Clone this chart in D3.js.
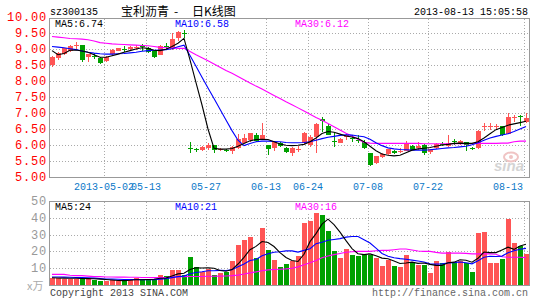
<!DOCTYPE html>
<html>
<head>
<meta charset="utf-8">
<script src="https://cdn.jsdelivr.net/npm/d3@7"></script>
<style>
body { margin: 0; background: #fff; }
svg text { font-family: "Liberation Mono", "DejaVu Sans Mono", monospace; }
</style>
</head>
<body>
<div id="chart"></div>
<script>
const dates = [
  '2013-04-16','2013-04-17','2013-04-18','2013-04-19','2013-04-22','2013-04-23','2013-04-24','2013-04-25','2013-04-26',
  '2013-05-02','2013-05-03','2013-05-06','2013-05-07','2013-05-08','2013-05-09','2013-05-10',
  '2013-05-13','2013-05-14','2013-05-15','2013-05-16','2013-05-17','2013-05-20','2013-05-21','2013-05-22','2013-05-23','2013-05-24',
  '2013-05-27','2013-05-28','2013-05-29','2013-05-30','2013-05-31',
  '2013-06-03','2013-06-04','2013-06-05','2013-06-06','2013-06-07',
  '2013-06-13','2013-06-14','2013-06-17','2013-06-18','2013-06-19','2013-06-20','2013-06-21',
  '2013-06-24','2013-06-25','2013-06-26','2013-06-27','2013-06-28',
  '2013-07-01','2013-07-02','2013-07-03','2013-07-04','2013-07-05',
  '2013-07-08','2013-07-09','2013-07-10','2013-07-11','2013-07-12',
  '2013-07-15','2013-07-16','2013-07-17','2013-07-18','2013-07-19',
  '2013-07-22','2013-07-23','2013-07-24','2013-07-25','2013-07-26',
  '2013-07-29','2013-07-30','2013-07-31','2013-08-01','2013-08-02',
  '2013-08-05','2013-08-06','2013-08-07','2013-08-08','2013-08-09',
  '2013-08-12','2013-08-13'
];

const open = [8.50,8.71,8.84,8.94,9.09,9.12,8.74,8.79,8.73,8.62,8.84,8.94,9.01,9.00,9.02,9.08,9.04,8.93,8.83,9.08,9.00,9.35,9.50,
  5.92,5.86,5.85,5.93,6.00,5.85,5.85,5.82,5.90,6.08,6.13,6.31,6.19,6.00,5.90,6.07,5.92,5.77,5.86,6.05,5.98,6.25,6.82,6.59,6.11,6.08,6.23,6.22,
  6.15,6.10,5.74,5.45,5.63,5.71,5.81,5.78,5.82,5.98,5.91,6.00,5.76,5.90,6.03,5.97,6.13,6.02,6.08,5.90,5.92,6.55,6.58,6.57,6.59,6.36,6.86,6.90,6.70];
const high = [8.79,8.90,9.04,9.14,9.22,9.13,8.85,8.88,8.75,8.78,9.00,9.03,9.10,9.08,9.12,9.15,9.05,8.95,9.12,9.18,9.50,9.56,9.60,
  6.10,5.90,5.96,6.07,6.00,5.90,5.87,5.96,6.33,6.33,6.37,6.38,6.68,6.00,6.12,6.08,5.93,5.94,5.97,6.42,6.30,6.69,6.88,6.67,6.36,6.22,6.34,6.30,
  6.31,6.15,5.76,5.67,5.74,5.88,5.83,5.90,6.12,6.00,6.10,6.02,5.88,6.05,6.08,6.31,6.20,6.15,6.10,5.95,6.46,6.68,6.68,6.66,6.60,7.00,6.95,6.95,7.00];
const low = [8.44,8.67,8.80,8.92,9.00,8.58,8.58,8.70,8.52,8.58,8.80,8.93,8.90,8.98,8.98,8.94,8.88,8.72,8.80,9.00,8.98,9.25,9.35,
  5.75,5.78,5.82,5.84,5.76,5.82,5.78,5.72,5.87,6.05,6.10,6.10,6.16,5.70,5.80,5.95,5.75,5.65,5.77,6.02,5.95,5.75,6.42,6.30,5.95,6.05,6.15,6.10,
  6.05,5.88,5.35,5.42,5.60,5.68,5.72,5.74,5.80,5.85,5.84,5.70,5.73,5.88,5.98,5.95,6.00,6.00,5.82,5.85,5.88,6.43,6.48,6.50,6.27,6.34,6.73,6.60,6.70];
const close = [8.76,8.86,9.02,9.10,9.12,8.64,8.83,8.76,8.58,8.76,8.97,9.02,8.99,9.06,9.06,9.05,8.92,8.75,9.10,9.06,9.31,9.54,9.47,
  5.90,5.84,5.94,6.01,5.85,5.87,5.83,5.93,6.18,6.23,6.36,6.13,6.31,5.87,6.10,5.97,5.79,5.92,5.88,6.36,6.24,6.66,6.76,6.31,6.09,6.20,6.30,6.19,
  6.11,5.90,5.37,5.66,5.71,5.86,5.74,5.80,6.07,5.87,5.96,5.74,5.86,6.02,6.00,6.07,6.10,6.12,6.00,5.88,6.44,6.58,6.60,6.60,6.31,6.88,6.88,6.86,6.83];
// 成交量 (万手)
const volume = [4.4,4.4,3.6,3.6,3.6,4.4,4.0,3.0,2.4,2.6,3.0,2.6,2.6,3.4,4.0,3.0,3.4,3.4,6.0,5.4,9.0,9.0,5.8,
  16.9,11.0,8.0,9.4,5.8,7.1,7.7,14.5,24.0,27.0,28.6,16.1,33.9,21.0,15.1,10.5,12.5,14.1,17.5,36.9,37.9,46.8,41.9,32.3,20.4,16.1,21.4,18.1,
  17.1,17.7,18.1,16.1,11.1,15.1,11.1,10.7,17.7,13.5,11.7,11.7,7.1,14.5,13.1,19.6,13.5,14.1,13.1,7.7,31.0,31.5,13.1,13.1,15.7,39.3,25.0,23.0,18.5];

const ma5 = [8.95,8.82,8.86,8.96,8.97,8.94,8.90,8.82,8.74,8.74,8.79,8.84,8.90,8.95,9.00,9.04,9.02,8.96,8.95,8.99,9.08,9.18,9.33,
  8.66,7.95,7.25,6.50,5.90,5.87,5.87,5.89,5.96,6.05,6.13,6.17,6.18,6.17,6.10,6.03,5.99,5.98,5.99,6.02,6.10,6.22,6.36,6.42,6.40,6.34,6.28,6.25,
  6.20,6.10,5.96,5.82,5.72,5.68,5.66,5.68,5.76,5.84,5.88,5.90,5.92,5.96,6.00,6.02,6.05,6.06,6.05,6.05,6.10,6.22,6.35,6.48,6.55,6.62,6.66,6.70,6.74];
const ma10 = [9.08,9.06,9.04,9.01,8.98,8.94,8.90,8.87,8.85,8.84,8.84,8.85,8.86,8.88,8.90,8.93,8.95,8.96,8.97,8.98,9.01,9.07,9.12,
  8.80,8.46,8.12,7.78,7.45,7.12,6.78,6.45,6.15,5.98,6.05,6.10,6.12,6.12,6.11,6.10,6.08,6.07,6.07,6.08,6.10,6.15,6.20,6.24,6.27,6.30,6.32,6.31,
  6.28,6.26,6.18,6.07,5.98,5.91,5.88,5.86,5.85,5.84,5.84,5.84,5.85,5.87,5.89,5.91,5.92,5.94,5.96,6.01,6.07,6.15,6.22,6.27,6.31,6.35,6.42,6.50,6.58];
const ma30 = [9.39,9.37,9.35,9.33,9.32,9.31,9.29,9.25,9.20,9.18,9.16,9.15,9.14,9.13,9.12,9.11,9.10,9.08,9.05,9.04,9.03,9.02,9.02,
  8.92,8.82,8.73,8.63,8.53,8.43,8.33,8.24,8.14,8.04,7.94,7.84,7.75,7.65,7.55,7.45,7.35,7.26,7.16,7.06,6.96,6.86,6.77,6.67,6.57,6.47,6.37,6.28,
  6.18,6.08,6.06,6.05,6.05,6.05,6.05,6.05,6.05,6.05,6.05,6.04,6.04,6.04,6.04,6.04,6.04,6.04,6.04,6.04,6.05,6.05,6.05,6.05,6.06,6.06,6.10,6.12,6.12];

const volMa5 = [4.3,4.2,4.1,4.0,4.0,3.9,3.8,3.7,3.5,3.3,3.0,2.7,2.6,2.8,3.1,3.1,3.3,3.4,4.0,4.2,5.4,6.6,7.0,
  9.2,10.3,10.1,10.2,10.0,8.6,8.2,9.2,12.5,16.5,21.0,23.0,25.9,25.3,22.9,19.3,16.4,14.6,14.0,18.3,25.8,30.6,36.2,39.2,35.9,31.5,26.4,21.7,
  18.6,18.1,18.5,17.4,16.0,15.6,14.3,12.8,13.1,13.6,12.9,13.1,12.3,11.7,11.6,13.2,13.6,15.0,14.7,13.6,15.9,19.6,19.3,19.3,20.9,22.5,21.2,23.2,24.3];
const volMa10 = [4.8,4.8,4.7,4.6,4.5,4.4,4.3,4.1,3.9,3.6,3.5,3.4,3.3,3.3,3.3,3.2,3.2,3.2,3.5,3.8,4.4,5.0,5.3,
  6.7,7.4,7.9,8.5,8.5,8.7,8.6,9.1,10.8,12.5,14.6,15.2,17.4,18.6,19.5,19.8,20.3,20.3,19.6,20.6,21.6,24.6,25.4,26.6,27.1,27.6,28.5,28.9,
  28.9,27.0,25.0,21.9,18.8,17.1,16.2,15.7,15.3,14.8,14.3,13.7,12.6,12.4,12.6,13.1,13.3,13.7,13.2,12.6,14.5,16.5,17.1,17.0,17.2,19.2,20.4,21.3,21.8];
const volMa30 = [6.3,6.3,6.3,5.8,5.6,5.6,5.3,5.0,5.0,4.8,4.8,4.7,4.7,4.6,4.6,4.5,4.5,4.4,4.4,4.5,4.7,4.9,5.0,
  5.1,5.1,5.1,5.2,5.2,5.3,5.4,5.6,5.9,6.5,7.2,7.8,8.5,9.0,9.2,9.4,9.6,10.0,10.8,12.0,13.2,14.6,16.2,17.3,18.1,18.8,19.5,19.8,
  20.0,20.0,20.0,20.4,20.6,20.6,21.0,21.4,21.4,20.8,20.2,20.0,20.0,19.4,19.0,19.0,19.0,19.0,18.8,18.5,18.5,18.5,18.5,18.3,16.8,16.5,16.5,16.5,16.3];

const tickDates = ['2013-05-02','2013-05-13','2013-05-27','2013-06-13','2013-06-24','2013-07-08','2013-07-22','2013-08-13'];
const tickLabels = ['2013-05-02','05-13','05-27','06-13','06-24','07-08','07-22','08-13'];
const priceTicks = [5.00,5.50,6.00,6.50,7.00,7.50,8.00,8.50,9.00,9.50,10.00];
const volTicks = [10,20,30,40,50];

const maLabels = ['MA5:6.74','MA10:6.58','MA30:6.12'];
const volMaLabels = ['MA5:24','MA10:21','MA30:16'];
const maColors = ['#000','#00f','#f0f'];

const W = 545, H = 300;
const RED = '#ff5555', GREEN = '#00a000', GRID = '#aaa', FRAME = '#999';

const svg = d3.select('#chart').append('svg')
  .attr('width', W).attr('height', H)
  .style('display', 'block');

const x = d3.scaleBand().domain(dates).range([50, 50 + 6 * dates.length - 1]).paddingInner(1 / 6);
const cx = d => x(d) + 2.5;
const y = d3.scaleLinear().domain([5, 10]).range([177, 17]);
const yv = d3.scaleLinear().domain([0, 50]).range([285, 201]);

const px = v => Math.round(v) + 0.5;

// grids
const grid = svg.append('g').attr('stroke', GRID).attr('stroke-dasharray', '1,2').attr('shape-rendering', 'crispEdges');
tickDates.forEach(d => {
  grid.append('line').attr('x1', px(x(d))).attr('x2', px(x(d))).attr('y1', 19).attr('y2', 177);
  grid.append('line').attr('x1', px(x(d))).attr('x2', px(x(d))).attr('y1', 202).attr('y2', 285);
});
priceTicks.slice(1, -1).forEach(p => {
  grid.append('line').attr('x1', 50).attr('x2', 529).attr('y1', px(y(p))).attr('y2', px(y(p)));
});
volTicks.slice(0, -1).forEach(v => {
  grid.append('line').attr('x1', 50).attr('x2', 529).attr('y1', px(yv(v))).attr('y2', px(yv(v)));
});

// frames
svg.append('rect').attr('x', 49.5).attr('y', 18.5).attr('width', 480).attr('height', 159)
  .attr('fill', 'none').attr('stroke', FRAME);
svg.append('rect').attr('x', 49.5).attr('y', 201.5).attr('width', 480).attr('height', 84)
  .attr('fill', 'none').attr('stroke', FRAME);

// sina watermark
const wm = svg.append('g');
wm.append('ellipse').attr('cx', 511).attr('cy', 157).attr('rx', 7).attr('ry', 4.5)
  .attr('fill', 'none').attr('stroke', '#f0c4c4').attr('stroke-width', 2);
wm.append('circle').attr('cx', 511).attr('cy', 157).attr('r', 2).attr('fill', '#f0c4c4');
wm.append('text').attr('x', 494).attr('y', 171).text('sina')
  .style('font-family', '"Liberation Sans", sans-serif').style('font-size', '15px')
  .style('font-style', 'italic').style('font-weight', 'bold').attr('fill', '#d4d4d4');

// candles
const candles = svg.append('g').attr('shape-rendering', 'crispEdges');
dates.forEach((d, i) => {
  const up = close[i] >= open[i];
  const col = up ? RED : GREEN;
  candles.append('line').attr('x1', px(cx(d) - 0.5)).attr('x2', px(cx(d) - 0.5))
    .attr('y1', y(high[i])).attr('y2', y(low[i])).attr('stroke', col);
  const top = y(Math.max(open[i], close[i]));
  const h = Math.abs(y(open[i]) - y(close[i]));
  candles.append('rect').attr('x', x(d)).attr('y', Math.round(top))
    .attr('width', x.bandwidth()).attr('height', Math.max(1, Math.round(h))).attr('fill', col);
});

// volume bars
svg.append('g').attr('shape-rendering', 'crispEdges')
  .selectAll('rect').data(dates).join('rect')
  .attr('x', d => x(d)).attr('width', x.bandwidth())
  .attr('y', (d, i) => Math.round(yv(volume[i])))
  .attr('height', (d, i) => 285 - Math.round(yv(volume[i])))
  .attr('fill', (d, i) => close[i] >= open[i] ? RED : GREEN);

// moving average lines
const drawLine = (vals, scale, color) => {
  svg.append('path')
    .datum(vals)
    .attr('d', d3.line().x((v, i) => cx(dates[i]) - 0.5).y(v => scale(v)))
    .attr('fill', 'none').attr('stroke', color).attr('stroke-width', 1.1);
};
[ma30, ma10, ma5].forEach((s, k) => drawLine(s, y, maColors[2 - k]));
[volMa30, volMa10, volMa5].forEach((s, k) => drawLine(s, yv, maColors[2 - k]));

// labels with white backgrounds
const label = (txt, xx, yy, color) => {
  const t = svg.append('text').attr('x', xx).attr('y', yy).text(txt)
    .attr('fill', color).style('font-size', '10px');
  const b = t.node().getBBox();
  svg.insert('rect', () => t.node()).attr('x', b.x - 1).attr('y', b.y).attr('width', b.width + 2)
    .attr('height', b.height).attr('fill', '#fff');
};
maLabels.forEach((t, k) => label(t, [55, 175, 295][k], 27, maColors[k]));
volMaLabels.forEach((t, k) => label(t, [55, 175, 295][k], 210, maColors[k]));

// price axis labels
svg.append('g').selectAll('text').data(priceTicks).join('text')
  .attr('x', 47).attr('y', p => y(p) + 4)
  .attr('text-anchor', 'end').attr('fill', '#f00')
  .style('font-size', '12px').style('letter-spacing', '0.8px')
  .text(p => p.toFixed(2));

// volume axis labels
svg.append('g').selectAll('text').data(volTicks).join('text')
  .attr('x', 47).attr('y', v => yv(v) + 4)
  .attr('text-anchor', 'end').attr('fill', '#999')
  .style('font-size', '12px').style('letter-spacing', '0.8px')
  .text(v => v);
svg.append('text').attr('x', 27).attr('y', 290).attr('fill', '#aaa')
  .style('font-size', '11px').style('font-family', '"Noto Sans CJK SC", sans-serif')
  .text('x万');

// date axis labels
tickDates.forEach((d, k) => {
  const gx = x(d);
  const t = svg.append('text').attr('y', 190).attr('fill', '#0a78c8')
    .style('font-size', '10px').text(tickLabels[k]);
  const w = t.node().getComputedTextLength();
  t.attr('x', Math.min(gx - w / 2, 523 - w));
});

// header
svg.append('text').attr('x', 50).attr('y', 15).style('font-size', '10px').attr('fill', '#000').text('sz300135');
const title = svg.append('text').attr('y', 16).attr('fill', '#000')
  .style('font-family', '"Noto Sans CJK SC", sans-serif').style('font-size', '12px');
title.append('tspan').attr('x', 121).text('宝利沥青');
title.append('tspan').attr('x', 174).text('-');
title.append('tspan').attr('x', 192).text('日K线图');
svg.append('text').attr('x', 528).attr('y', 15).attr('text-anchor', 'end')
  .style('font-size', '10px').attr('fill', '#000').text('2013-08-13 15:05:58');

// footer
svg.append('text').attr('x', 50).attr('y', 296).style('font-size', '10px').attr('fill', '#444')
  .text('Copyright 2013 SINA.COM');
svg.append('text').attr('x', 528).attr('y', 296).attr('text-anchor', 'end')
  .style('font-size', '10px').attr('fill', '#666').text('http://finance.sina.com.cn');
</script>
</body>
</html>
